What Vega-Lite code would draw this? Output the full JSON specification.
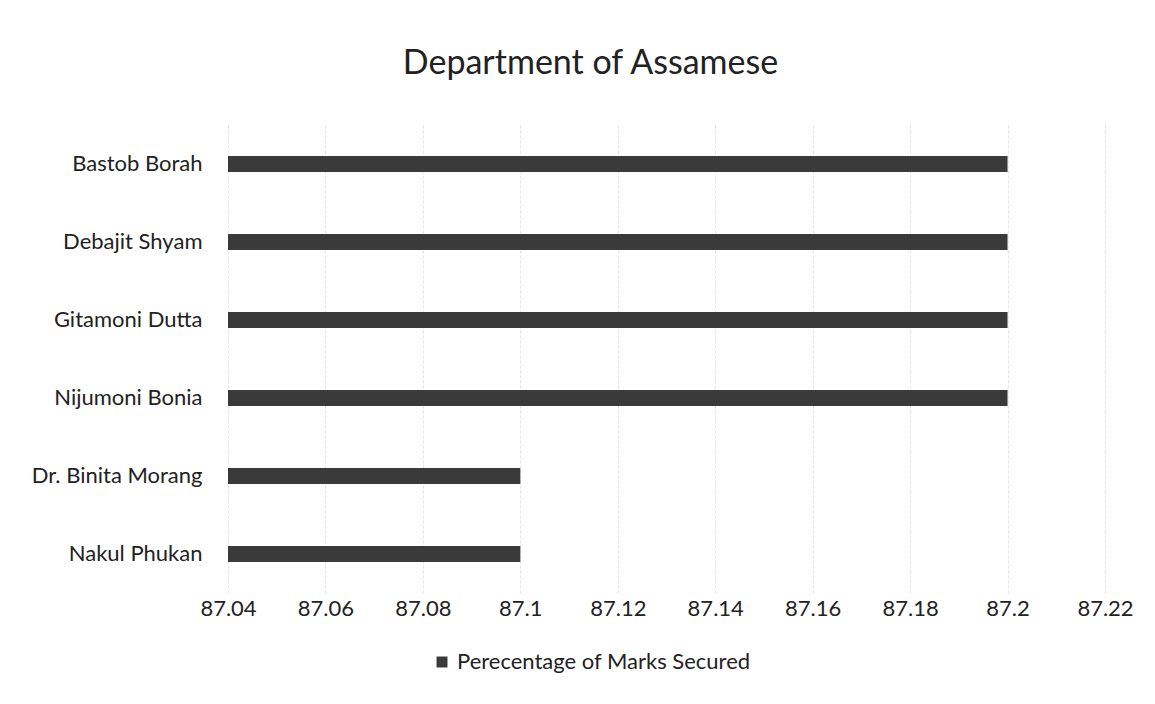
{
  "$schema": "https://vega.github.io/schema/vega-lite/v6.json",
  "width": 877,
  "height": 468,
  "autosize": {"type": "none"},
  "padding": {"left": 228, "top": 125, "right": 50, "bottom": 111},
  "background": "white",
  "title": {"text": "Department of Assamese", "fontSize": 34, "font": "Lato", "fontWeight": "normal", "color": "#222222", "offset": 44, "anchor": "middle", "dx": -76},
  "config": {"view": {"stroke": null}, "font": "Lato"},
  "data": {"values": [
    {"name": "Bastob Borah", "pct": 87.2},
    {"name": "Debajit Shyam", "pct": 87.2},
    {"name": "Gitamoni Dutta", "pct": 87.2},
    {"name": "Nijumoni Bonia", "pct": 87.2},
    {"name": "Dr. Binita Morang", "pct": 87.1},
    {"name": "Nakul Phukan", "pct": 87.1}
  ]},
  "mark": {"type": "bar", "size": 16},
  "encoding": {
    "y": {"field": "name", "type": "nominal", "sort": null, "title": null,
      "axis": {"domain": false, "ticks": false, "labelFontSize": 22, "labelColor": "#222222", "labelPadding": 26, "grid": false}},
    "x": {"field": "pct", "type": "quantitative", "title": null,
      "scale": {"domain": [87.04, 87.22], "zero": false, "nice": false},
      "axis": {"values": [87.04, 87.06, 87.08, 87.1, 87.12, 87.14, 87.16, 87.18, 87.2, 87.22], "labelExpr": "format(datum.value, '.2~f')", "labelFlush": false, "labelOverlap": false, "domain": false, "ticks": false, "labelFontSize": 22, "labelColor": "#222222", "labelPadding": 5, "grid": true, "gridColor": "#e2e2e2", "gridDash": [3, 2]}},
    "x2": {"datum": 87.04},
    "color": {"datum": "Perecentage of Marks Secured", "type": "nominal",
      "scale": {"range": ["#3a3a3a"]},
      "legend": {"orient": "none", "direction": "horizontal", "legendX": 203, "legendY": 526, "title": null, "symbolType": "square", "symbolSize": 120, "labelFontSize": 22, "labelColor": "#222222", "labelLimit": 0, "symbolStrokeWidth": 0}}
  }
}
